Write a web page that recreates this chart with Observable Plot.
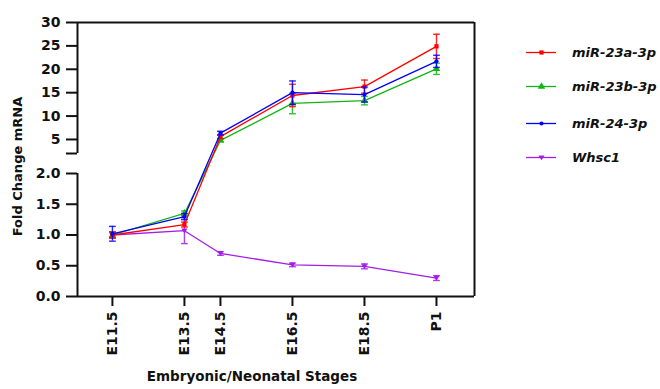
<!DOCTYPE html>
<html><head><meta charset="utf-8">
<script src="https://cdn.jsdelivr.net/npm/d3@7"></script>
<script src="https://cdn.jsdelivr.net/npm/@observablehq/plot@0.6"></script>
<style>
body{margin:0;background:#fff;}
#wrap{position:relative;width:660px;height:389px;}
#legend{position:absolute;left:526px;top:0;width:134px;height:180px;}
.item{position:absolute;left:0;width:134px;height:20px;display:flex;align-items:center;white-space:nowrap;font:italic bold 13px "DejaVu Sans",sans-serif;color:#111;}
.item svg{margin-right:16px;flex:0 0 30px;max-width:none !important;}
</style></head><body><div id="wrap"><div id="legend"></div></div>
<script>
// ---- data ----
const stages   = ["E11.5", "E13.5", "E14.5", "E16.5", "E18.5", "P1"];
const stageDay = [11.5, 13.5, 14.5, 16.5, 18.5, 20.5];
const seriesNames = ["miR-23a-3p", "miR-23b-3p", "miR-24-3p", "Whsc1"];
const mir23a    = [1.00, 1.17, 5.6, 14.4, 16.3, 24.9];
const mir23aErr = [0.05, 0.04, 0.4, 2.4, 1.4, 2.6];
const mir23b    = [1.00, 1.35, 4.8, 12.7, 13.3, 20.1];
const mir23bErr = [0.04, 0.04, 0.3, 2.2, 0.9, 1.2];
const mir24     = [1.02, 1.30, 6.35, 15.0, 14.6, 21.7];
const mir24Err  = [0.12, 0.05, 0.4, 2.5, 1.6, 1.3];
const whsc1     = [1.00, 1.07, 0.70, 0.515, 0.49, 0.30];
const whsc1Err  = [0.05, 0.21, 0.03, 0.03, 0.04, 0.04];
// broken y axis: lower 0–2, upper 2–30
const yLower = [0, 2];
const yUpper = [2.0001, 30];
const yTicks = [0, 0.5, 1, 1.5, 2, 2.0001, 5, 10, 15, 20, 25, 30];
const xDomain = [10.53, 21.556];

const colors = ["#ff0000", "#11b511", "#0000ff", "#a21ee8"];
const triDown = {draw(ctx, size) { const r = Math.sqrt(size / Math.PI); ctx.moveTo(-r, -r * 0.7); ctx.lineTo(r, -r * 0.7); ctx.lineTo(0, r * 0.9); ctx.closePath(); }};
const hline = {draw(ctx, size) { const r = Math.sqrt(size / Math.PI); ctx.moveTo(-r, 0); ctx.lineTo(r, 0); }};
const symbols = ["square", "triangle", "circle", triDown];
const symR = [2.4, 2.8, 2.1, 3.0];
const vals = [mir23a, mir23b, mir24, whsc1];
const errs = [mir23aErr, mir23bErr, mir24Err, whsc1Err];

const rows = seriesNames.map((name, s) => stageDay.map((day, i) => ({series: name, day, value: vals[s][i], lo: vals[s][i] - errs[s][i], hi: vals[s][i] + errs[s][i]})));

const drawOrder = [3, 1, 0, 2];
const seriesMarks = drawOrder.flatMap(s => [
  Plot.ruleX(rows[s], {x: "day", y1: "lo", y2: "hi", stroke: colors[s], strokeWidth: 1.4, strokeOpacity: 0.85}),
  Plot.dot(rows[s], {x: "day", y: "lo", symbol: hline, r: 3.4, stroke: colors[s], strokeWidth: 1.4, fill: "none", strokeOpacity: 0.85}),
  Plot.dot(rows[s], {x: "day", y: "hi", symbol: hline, r: 3.4, stroke: colors[s], strokeWidth: 1.4, fill: "none", strokeOpacity: 0.85}),
  Plot.line(rows[s], {x: "day", y: "value", stroke: colors[s], strokeWidth: 1.3}),
  Plot.dot(rows[s], {x: "day", y: "value", symbol: symbols[s], r: symR[s], fill: colors[s], stroke: "none"})
]);

const font = '"DejaVu Sans", sans-serif';
const chart = Plot.plot({
  width: 660, height: 389,
  marginLeft: 77, marginRight: 186, marginTop: 22, marginBottom: 93,
  style: {fontFamily: font, fontSize: "14px", fontWeight: "bold", color: "#111", background: "#fff"},
  x: {type: "linear", domain: xDomain},
  y: {type: "linear", domain: [yLower[0], yLower[1], yUpper[0], yUpper[1]], range: [296, 173, 153, 22]},
  marks: [
    Plot.axisY({ticks: yTicks, tickSize: 11, tickPadding: 6, strokeWidth: 2, label: null, fontSize: 14,
      tickFormat: d => d <= 2 ? d.toFixed(1) : (d < 3 ? "" : String(d))}),
    Plot.axisX({ticks: stageDay, tickSize: 10, tickPadding: 5, strokeWidth: 2, tickRotate: -90, label: null, fontSize: 14,
      tickFormat: d => stages[stageDay.indexOf(d)]}),
    Plot.ruleX([xDomain[0]], {y1: yLower[0], y2: yLower[1], strokeWidth: 2, stroke: "#111"}),
    Plot.ruleX([xDomain[0]], {y1: yUpper[0], y2: yUpper[1], strokeWidth: 2, stroke: "#111"}),
    Plot.ruleX([xDomain[1]], {y1: yLower[0], y2: yUpper[1], strokeWidth: 2, stroke: "#111"}),
    Plot.ruleY([yUpper[1]], {x1: xDomain[0], x2: xDomain[1], strokeWidth: 2, stroke: "#111"}),
    Plot.ruleY([yLower[0]], {x1: xDomain[0], x2: xDomain[1], strokeWidth: 2, stroke: "#111"}),
    ...seriesMarks,
    Plot.text(["Fold Change mRNA"], {text: d => d, frameAnchor: "left", textAnchor: "middle", lineAnchor: "middle", rotate: -90, dx: -60, dy: 7, fontSize: 13, fontWeight: "bold", fill: "#111"}),
    Plot.text(["Embryonic/Neonatal Stages"], {text: d => d, frameAnchor: "bottom", textAnchor: "middle", lineAnchor: "middle", dx: -24, dy: 80.5, fontSize: 13.5, fontWeight: "bold", fill: "#111"})
  ]
});
document.getElementById("wrap").prepend(chart);

// legend
const legendY = [52, 86, 123, 157];
const legend = document.getElementById("legend");
seriesNames.forEach((name, s) => {
  const item = document.createElement("div");
  item.className = "item";
  item.style.top = (legendY[s] - 10) + "px";
  const sw = Plot.plot({
    width: 30, height: 20, margin: 0, x: {domain: [0, 1], axis: null}, y: {domain: [0, 1], axis: null},
    marks: [
      Plot.ruleY([0.5], {stroke: colors[s], strokeWidth: 1.3}),
      Plot.dot([0.5], {x: d => d, y: 0.5, symbol: symbols[s], r: symR[s], fill: colors[s]})
    ]
  });
  item.appendChild(sw);
  const t = document.createElement("span");
  t.textContent = name;
  item.appendChild(t);
  legend.appendChild(item);
});
</script></body></html>
